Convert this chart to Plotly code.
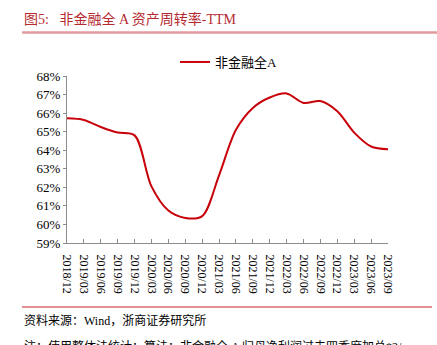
import plotly.graph_objects as go

# ---- data ----
categories = ["2018/12", "2019/03", "2019/06", "2019/09", "2019/12", "2020/03", "2020/06",
              "2020/09", "2020/12", "2021/03", "2021/06", "2021/09", "2021/12", "2022/03",
              "2022/06", "2022/09", "2022/12", "2023/03", "2023/06", "2023/09"]
series_name = "非金融全A"
values = [65.72, 65.63, 65.25, 64.95, 64.80, 62.05, 60.75, 60.35, 60.45, 62.65,
          65.10, 66.28, 66.84, 67.06, 66.55, 66.65, 66.10, 64.95, 64.20, 64.05]
y_ticks = [59, 60, 61, 62, 63, 64, 65, 66, 67, 68]
y_tick_labels = [f"{v}%" for v in y_ticks]

title_text = "图5:\u00a0\u00a0 非金融全 A 资产周转率-TTM"
source_text = "资料来源：Wind，浙商证券研究所"
note_text = "注：使用整体法统计；算法：非金融全 A 归母净利润过去四季度加总*2/"

# ---- layout geometry (pixels) ----
FW, FH = 437, 345
L, R, T, B = 67, 49, 76, 102
PW, PH = FW - L - R, FH - T - B


def px(x):
    return (x - L) / PW


def py(y):
    return (FH - B - y) / PH


SERIF = "Liberation Serif, Noto Sans CJK SC, serif"
AXIS_COLOR = "#8c8c8c"

fig = go.Figure()
fig.add_trace(go.Scatter(
    x=list(range(len(categories))), y=values, mode="lines", name=series_name,
    line=dict(color="#C8000A", width=2, shape="spline", smoothing=0.9),
))

fig.update_layout(
    width=FW, height=FH,
    margin=dict(l=L, r=R, t=T, b=B),
    paper_bgcolor="white", plot_bgcolor="white",
    font=dict(family=SERIF, color="#000000", size=12),
    showlegend=True,
    legend=dict(orientation="h", x=px(175), xanchor="left", y=py(62), yanchor="middle",
                font=dict(size=13, family=SERIF), bgcolor="rgba(0,0,0,0)",
                itemwidth=30),
    xaxis=dict(
        range=[0, len(categories) - 1], tickmode="array",
        tickvals=list(range(len(categories))), ticktext=categories,
        tickangle=90, ticks="inside", ticklen=4, tickcolor=AXIS_COLOR,
        showline=True, linecolor=AXIS_COLOR, linewidth=1, showgrid=False,
        zeroline=False, tickfont=dict(size=12, family=SERIF), ticklabelstandoff=8,
    ),
    yaxis=dict(
        range=[59, 68], tickmode="array", tickvals=y_ticks, ticktext=y_tick_labels,
        ticks="outside", ticklen=3, tickcolor=AXIS_COLOR,
        showline=True, linecolor=AXIS_COLOR, linewidth=1, showgrid=False,
        zeroline=False, tickfont=dict(size=13, family=SERIF),
    ),
)

# title
fig.add_annotation(xref="paper", yref="paper", x=px(22), y=py(19), xanchor="left",
                   yanchor="middle", text=title_text, showarrow=False,
                   font=dict(size=14, color="#B52A30", family=SERIF))
fig.add_shape(type="line", xref="paper", yref="paper", x0=px(22), x1=px(437),
              y0=py(32.5), y1=py(32.5), line=dict(color="#E39A9C", width=2.5))
# bottom separator and notes
fig.add_shape(type="line", xref="paper", yref="paper", x0=px(22), x1=px(432),
              y0=py(307), y1=py(307), line=dict(color="#C8232A", width=1))
fig.add_annotation(xref="paper", yref="paper", x=px(22), y=py(320), xanchor="left",
                   yanchor="middle", text=source_text, showarrow=False,
                   font=dict(size=12, color="#000000", family=SERIF))
fig.add_annotation(xref="paper", yref="paper", x=px(22), y=py(337), xanchor="left",
                   yanchor="top", text=note_text, showarrow=False,
                   font=dict(size=12, color="#000000", family=SERIF))

fig.write_html("out.html")
